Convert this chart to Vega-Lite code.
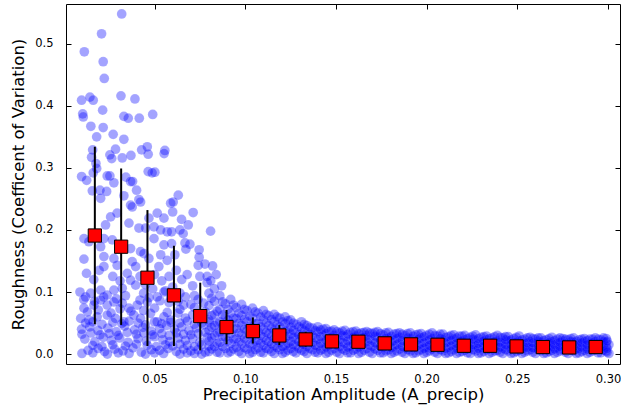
{
"$schema":"https://vega.github.io/schema/vega-lite/v6.json",
"width":554,"height":360,
"autosize":{"type":"none"},
"padding":{"left":66,"top":4,"right":1,"bottom":46},
"config":{"font":"DejaVu Sans","view":{"stroke":"#000","strokeWidth":1},
"axis":{"grid":false,"domain":false,"tickColor":"#000","tickWidth":1,"tickSize":-5,"labelColor":"#000","labelFontSize":11.5,"labelFont":"DejaVu Sans","titleFont":"DejaVu Sans","titleFontWeight":"normal","titleFontSize":16.5,"titleColor":"#000"}},
"datasets":{
"pts":[
{"x":0.0319,"y":0.548},{"x":0.0208,"y":0.516},{"x":0.0113,"y":0.487},{"x":0.0217,"y":0.471},{"x":0.0223,"y":0.444},{"x":0.0098,"y":0.409},{"x":0.0144,"y":0.414},{"x":0.0162,"y":0.409},{"x":0.0315,"y":0.416},{"x":0.0392,"y":0.411},{"x":0.0214,"y":0.393},{"x":0.0104,"y":0.387},{"x":0.0107,"y":0.382},{"x":0.0331,"y":0.383},{"x":0.0355,"y":0.380},{"x":0.0416,"y":0.380},{"x":0.049,"y":0.386},{"x":0.0149,"y":0.367},{"x":0.0217,"y":0.365},{"x":0.0181,"y":0.350},{"x":0.0272,"y":0.354},{"x":0.0331,"y":0.346},{"x":0.0159,"y":0.329},{"x":0.0153,"y":0.317},{"x":0.0285,"y":0.330},{"x":0.0254,"y":0.321},{"x":0.0264,"y":0.315},{"x":0.0322,"y":0.316},{"x":0.037,"y":0.320},{"x":0.0429,"y":0.329},{"x":0.046,"y":0.334},{"x":0.0465,"y":0.322},{"x":0.0557,"y":0.328},{"x":0.0553,"y":0.323},{"x":0.0177,"y":0.307},{"x":0.0181,"y":0.299},{"x":0.0098,"y":0.286},{"x":0.0126,"y":0.280},{"x":0.0162,"y":0.292},{"x":0.0254,"y":0.287},{"x":0.0276,"y":0.276},{"x":0.0342,"y":0.285},{"x":0.0368,"y":0.278},{"x":0.0379,"y":0.278},{"x":0.0401,"y":0.264},{"x":0.0465,"y":0.294},{"x":0.0502,"y":0.293},{"x":0.0157,"y":0.263},{"x":0.0199,"y":0.264},{"x":0.0236,"y":0.262},{"x":0.0631,"y":0.256},{"x":0.0239,"y":0.287},{"x":0.0487,"y":0.292},{"x":0.0203,"y":0.251},{"x":0.0331,"y":0.255},{"x":0.0368,"y":0.240},{"x":0.0414,"y":0.249},{"x":0.0294,"y":0.227},{"x":0.0258,"y":0.221},{"x":0.0230,"y":0.208},{"x":0.0515,"y":0.227},{"x":0.0552,"y":0.219},{"x":0.0589,"y":0.243},{"x":0.0469,"y":0.219},{"x":0.0497,"y":0.205},{"x":0.0359,"y":0.211},{"x":0.0414,"y":0.203},{"x":0.0451,"y":0.203},{"x":0.0377,"y":0.237},{"x":0.0423,"y":0.245},{"x":0.0111,"y":0.186},{"x":0.0138,"y":0.181},{"x":0.0221,"y":0.186},{"x":0.0267,"y":0.184},{"x":0.0497,"y":0.186},{"x":0.0552,"y":0.176},{"x":0.057,"y":0.197},{"x":0.0534,"y":0.200},{"x":0.0423,"y":0.165},{"x":0.0442,"y":0.162},{"x":0.0469,"y":0.154},{"x":0.0111,"y":0.153},{"x":0.0203,"y":0.173},{"x":0.0221,"y":0.157},{"x":0.0276,"y":0.154},{"x":0.0294,"y":0.143},{"x":0.0221,"y":0.141},{"x":0.0368,"y":0.170},{"x":0.0377,"y":0.149},{"x":0.0396,"y":0.141},{"x":0.0534,"y":0.160},{"x":0.0524,"y":0.141},{"x":0.057,"y":0.151},
{"x":0.0603,"y":0.245},{"x":0.060,"y":0.229},{"x":0.0713,"y":0.228},{"x":0.0649,"y":0.217},{"x":0.0686,"y":0.208},{"x":0.064,"y":0.200},{"x":0.0658,"y":0.194},{"x":0.0594,"y":0.197},{"x":0.0809,"y":0.198},{"x":0.0668,"y":0.179},{"x":0.0695,"y":0.177},{"x":0.0673,"y":0.169},{"x":0.0746,"y":0.168},{"x":0.0746,"y":0.156},{"x":0.0594,"y":0.178},{"x":0.0612,"y":0.160},{"x":0.0741,"y":0.143},{"x":0.0778,"y":0.145},{"x":0.082,"y":0.142},
{"x":0.0125,"y":0.130},{"x":0.0165,"y":0.120},{"x":0.0195,"y":0.135},{"x":0.027,"y":0.125},{"x":0.031,"y":0.118},{"x":0.035,"y":0.130},{"x":0.042,"y":0.125},{"x":0.045,"y":0.112},{"x":0.050,"y":0.128},{"x":0.054,"y":0.118},{"x":0.058,"y":0.125},{"x":0.062,"y":0.135},{"x":0.065,"y":0.12},{"x":0.068,"y":0.128},{"x":0.071,"y":0.11},{"x":0.075,"y":0.125},{"x":0.079,"y":0.115},{"x":0.083,"y":0.105},{"x":0.060,"y":0.108},{"x":0.064,"y":0.098},
{"x":0.0089,"y":0.100},{"x":0.012,"y":0.092},{"x":0.0148,"y":0.098},{"x":0.0203,"y":0.103},{"x":0.0239,"y":0.095},{"x":0.0276,"y":0.103},{"x":0.0322,"y":0.106},{"x":0.0368,"y":0.119},{"x":0.0396,"y":0.111},{"x":0.044,"y":0.098},{"x":0.049,"y":0.105},{"x":0.056,"y":0.102},{"x":0.061,"y":0.095},
{"x":0.011,"y":0.088},{"x":0.017,"y":0.085},{"x":0.022,"y":0.092},{"x":0.029,"y":0.089},{"x":0.034,"y":0.094},{"x":0.042,"y":0.087},{"x":0.047,"y":0.091},{"x":0.053,"y":0.086},{"x":0.058,"y":0.083},{"x":0.066,"y":0.079},{"x":0.072,"y":0.094},{"x":0.077,"y":0.082},
{"x":0.0111,"y":0.074},{"x":0.0166,"y":0.079},{"x":0.0203,"y":0.087},{"x":0.0239,"y":0.079},{"x":0.0276,"y":0.084},{"x":0.0322,"y":0.082},{"x":0.0359,"y":0.074},{"x":0.0405,"y":0.079},{"x":0.046,"y":0.084},{"x":0.0515,"y":0.092},{"x":0.0552,"y":0.100},{"x":0.0589,"y":0.090},{"x":0.063,"y":0.085},{"x":0.067,"y":0.092},{"x":0.070,"y":0.080},{"x":0.074,"y":0.088},
{"x":0.0093,"y":0.0575},{"x":0.0138,"y":0.0548},{"x":0.0184,"y":0.060},{"x":0.0239,"y":0.0628},{"x":0.0285,"y":0.0575},{"x":0.0331,"y":0.052},{"x":0.0386,"y":0.0628},{"x":0.0423,"y":0.0575},{"x":0.0478,"y":0.0656},{"x":0.0515,"y":0.052},{"x":0.0552,"y":0.060},{"x":0.0589,"y":0.0548},{"x":0.063,"y":0.066},{"x":0.067,"y":0.058},{"x":0.071,"y":0.063},{"x":0.075,"y":0.056},{"x":0.078,"y":0.068},
{"x":0.0098,"y":0.040},{"x":0.0143,"y":0.044},{"x":0.0188,"y":0.038},{"x":0.0243,"y":0.042},{"x":0.0289,"y":0.036},{"x":0.0335,"y":0.045},{"x":0.0390,"y":0.039},{"x":0.0436,"y":0.043},{"x":0.0482,"y":0.037},{"x":0.0528,"y":0.041},{"x":0.0565,"y":0.046},{"x":0.061,"y":0.040},{"x":0.065,"y":0.044},{"x":0.069,"y":0.038},{"x":0.073,"y":0.042},{"x":0.077,"y":0.047},
{"x":0.0116,"y":0.024},{"x":0.0171,"y":0.020},{"x":0.0217,"y":0.027},{"x":0.0262,"y":0.022},{"x":0.0308,"y":0.026},{"x":0.0354,"y":0.019},{"x":0.0409,"y":0.025},{"x":0.0455,"y":0.021},{"x":0.0500,"y":0.028},{"x":0.0546,"y":0.023},{"x":0.0583,"y":0.020},{"x":0.063,"y":0.026},{"x":0.067,"y":0.022},{"x":0.071,"y":0.025},{"x":0.075,"y":0.019},{"x":0.079,"y":0.027},
{"x":0.0134,"y":0.006},{"x":0.0189,"y":0.009},{"x":0.0225,"y":0.004},{"x":0.0280,"y":0.008},{"x":0.0326,"y":0.005},{"x":0.0381,"y":0.010},{"x":0.0427,"y":0.003},{"x":0.0482,"y":0.007},{"x":0.0528,"y":0.006},{"x":0.0574,"y":0.009},{"x":0.062,"y":0.004},{"x":0.066,"y":0.008},{"x":0.070,"y":0.005},{"x":0.074,"y":0.007},{"x":0.078,"y":0.003},
{"x":0.010,"y":0.001},{"x":0.016,"y":0.002},{"x":0.024,"y":0.000},{"x":0.030,"y":0.002},{"x":0.036,"y":0.001},{"x":0.045,"y":0.000},{"x":0.050,"y":0.002},{"x":0.055,"y":0.001},{"x":0.064,"y":0.000},{"x":0.068,"y":0.002},{"x":0.072,"y":0.001},{"x":0.076,"y":0.000},
{"x":0.013,"y":0.068},{"x":0.019,"y":0.071},{"x":0.026,"y":0.066},{"x":0.031,"y":0.073},{"x":0.037,"y":0.069},{"x":0.044,"y":0.070},{"x":0.050,"y":0.074},{"x":0.057,"y":0.067},{"x":0.064,"y":0.072},{"x":0.072,"y":0.075},
{"x":0.012,"y":0.050},{"x":0.016,"y":0.052},{"x":0.021,"y":0.048},{"x":0.027,"y":0.051},{"x":0.032,"y":0.049},{"x":0.036,"y":0.053},{"x":0.041,"y":0.050},{"x":0.045,"y":0.047},{"x":0.050,"y":0.052},{"x":0.054,"y":0.049},{"x":0.059,"y":0.051},{"x":0.064,"y":0.050},{"x":0.068,"y":0.053},{"x":0.072,"y":0.048},{"x":0.076,"y":0.050},{"x":0.080,"y":0.052},
{"x":0.010,"y":0.032},{"x":0.015,"y":0.034},{"x":0.020,"y":0.031},{"x":0.025,"y":0.033},{"x":0.030,"y":0.030},{"x":0.035,"y":0.035},{"x":0.040,"y":0.032},{"x":0.044,"y":0.034},{"x":0.049,"y":0.031},{"x":0.054,"y":0.033},{"x":0.058,"y":0.030},{"x":0.062,"y":0.034},{"x":0.066,"y":0.032},{"x":0.070,"y":0.031},{"x":0.074,"y":0.033},{"x":0.078,"y":0.035},
{"x":0.016,"y":0.014},{"x":0.021,"y":0.012},{"x":0.027,"y":0.015},{"x":0.034,"y":0.013},{"x":0.040,"y":0.016},{"x":0.046,"y":0.014},{"x":0.051,"y":0.012},{"x":0.056,"y":0.015},{"x":0.060,"y":0.013},{"x":0.064,"y":0.016},{"x":0.068,"y":0.014},{"x":0.072,"y":0.012},{"x":0.076,"y":0.015},{"x":0.080,"y":0.013},
{"x":0.081,"y":0.118},{"x":0.084,"y":0.128},{"x":0.087,"y":0.110},{"x":0.079,"y":0.125},
{"x":0.080,"y":0.004},{"x":0.080,"y":0.021},{"x":0.080,"y":0.038},{"x":0.080,"y":0.055},{"x":0.080,"y":0.078},{"x":0.080,"y":0.098},
{"x":0.083,"y":0.012},{"x":0.083,"y":0.030},{"x":0.083,"y":0.046},{"x":0.083,"y":0.064},{"x":0.083,"y":0.085},
{"x":0.086,"y":0.002},{"x":0.086,"y":0.019},{"x":0.086,"y":0.036},{"x":0.086,"y":0.052},{"x":0.086,"y":0.072},{"x":0.086,"y":0.094},
{"x":0.089,"y":0.009},{"x":0.089,"y":0.027},{"x":0.089,"y":0.044},{"x":0.089,"y":0.060},{"x":0.089,"y":0.081},
{"x":0.092,"y":0.004},{"x":0.092,"y":0.017},{"x":0.092,"y":0.033},{"x":0.092,"y":0.049},{"x":0.092,"y":0.066},{"x":0.092,"y":0.088},
{"x":0.095,"y":0.011},{"x":0.095,"y":0.025},{"x":0.095,"y":0.041},{"x":0.095,"y":0.057},{"x":0.095,"y":0.075},
{"x":0.098,"y":0.001},{"x":0.098,"y":0.016},{"x":0.098,"y":0.031},{"x":0.098,"y":0.046},{"x":0.098,"y":0.062},{"x":0.098,"y":0.080},
{"x":0.101,"y":0.008},{"x":0.101,"y":0.023},{"x":0.101,"y":0.038},{"x":0.101,"y":0.052},{"x":0.101,"y":0.070},
{"x":0.104,"y":0.003},{"x":0.104,"y":0.015},{"x":0.104,"y":0.029},{"x":0.104,"y":0.043},{"x":0.104,"y":0.058},{"x":0.104,"y":0.074},
{"x":0.107,"y":0.010},{"x":0.107,"y":0.022},{"x":0.107,"y":0.036},{"x":0.107,"y":0.050},{"x":0.107,"y":0.066},
{"x":0.110,"y":0.002},{"x":0.110,"y":0.014},{"x":0.110,"y":0.027},{"x":0.110,"y":0.040},{"x":0.110,"y":0.055},{"x":0.110,"y":0.070},
{"x":0.113,"y":0.008},{"x":0.113,"y":0.020},{"x":0.113,"y":0.033},{"x":0.113,"y":0.046},{"x":0.113,"y":0.062},
{"x":0.116,"y":0.001},{"x":0.116,"y":0.013},{"x":0.116,"y":0.025},{"x":0.116,"y":0.038},{"x":0.116,"y":0.052},{"x":0.116,"y":0.064},
{"x":0.119,"y":0.007},{"x":0.119,"y":0.019},{"x":0.119,"y":0.031},{"x":0.119,"y":0.044},{"x":0.119,"y":0.058},
{"x":0.122,"y":0.003},{"x":0.122,"y":0.014},{"x":0.122,"y":0.026},{"x":0.122,"y":0.037},{"x":0.122,"y":0.049},{"x":0.122,"y":0.060},
{"x":0.125,"y":0.009},{"x":0.125,"y":0.020},{"x":0.125,"y":0.032},{"x":0.125,"y":0.043},{"x":0.125,"y":0.055},
{"x":0.128,"y":0.002},{"x":0.128,"y":0.013},{"x":0.128,"y":0.024},{"x":0.128,"y":0.035},{"x":0.128,"y":0.048},
{"x":0.0815,"y":0.008},{"x":0.0815,"y":0.026},{"x":0.0815,"y":0.043},{"x":0.0815,"y":0.062},{"x":0.0815,"y":0.090},
{"x":0.0845,"y":0.003},{"x":0.0845,"y":0.017},{"x":0.0845,"y":0.034},{"x":0.0845,"y":0.050},{"x":0.0845,"y":0.069},
{"x":0.0875,"y":0.012},{"x":0.0875,"y":0.028},{"x":0.0875,"y":0.045},{"x":0.0875,"y":0.063},{"x":0.0875,"y":0.084},
{"x":0.0905,"y":0.002},{"x":0.0905,"y":0.021},{"x":0.0905,"y":0.038},{"x":0.0905,"y":0.055},{"x":0.0905,"y":0.072},
{"x":0.0935,"y":0.008},{"x":0.0935,"y":0.024},{"x":0.0935,"y":0.040},{"x":0.0935,"y":0.058},{"x":0.0935,"y":0.079},
{"x":0.0965,"y":0.004},{"x":0.0965,"y":0.019},{"x":0.0965,"y":0.034},{"x":0.0965,"y":0.050},{"x":0.0965,"y":0.066},
{"x":0.0995,"y":0.010},{"x":0.0995,"y":0.025},{"x":0.0995,"y":0.040},{"x":0.0995,"y":0.056},{"x":0.0995,"y":0.072},
{"x":0.1025,"y":0.001},{"x":0.1025,"y":0.016},{"x":0.1025,"y":0.031},{"x":0.1025,"y":0.045},{"x":0.1025,"y":0.061},
{"x":0.1055,"y":0.007},{"x":0.1055,"y":0.021},{"x":0.1055,"y":0.035},{"x":0.1055,"y":0.049},{"x":0.1055,"y":0.068},
{"x":0.1085,"y":0.003},{"x":0.1085,"y":0.017},{"x":0.1085,"y":0.030},{"x":0.1085,"y":0.044},{"x":0.1085,"y":0.060},
{"x":0.1115,"y":0.009},{"x":0.1115,"y":0.022},{"x":0.1115,"y":0.035},{"x":0.1115,"y":0.050},{"x":0.1115,"y":0.064},
{"x":0.1145,"y":0.004},{"x":0.1145,"y":0.016},{"x":0.1145,"y":0.029},{"x":0.1145,"y":0.042},{"x":0.1145,"y":0.056},
{"x":0.1175,"y":0.010},{"x":0.1175,"y":0.022},{"x":0.1175,"y":0.034},{"x":0.1175,"y":0.047},{"x":0.1175,"y":0.060},
{"x":0.1205,"y":0.001},{"x":0.1205,"y":0.012},{"x":0.1205,"y":0.024},{"x":0.1205,"y":0.036},{"x":0.1205,"y":0.052},
{"x":0.1235,"y":0.006},{"x":0.1235,"y":0.017},{"x":0.1235,"y":0.029},{"x":0.1235,"y":0.040},{"x":0.1235,"y":0.054},
{"x":0.1265,"y":0.004},{"x":0.1265,"y":0.015},{"x":0.1265,"y":0.027},{"x":0.1265,"y":0.038},{"x":0.1265,"y":0.050},
{"x":0.1295,"y":0.009},{"x":0.1295,"y":0.020},{"x":0.1295,"y":0.031},{"x":0.1295,"y":0.044},
{"x":0.131,"y":0.006},{"x":0.131,"y":0.017},{"x":0.131,"y":0.029},{"x":0.131,"y":0.041},{"x":0.131,"y":0.052},
{"x":0.134,"y":0.001},{"x":0.134,"y":0.012},{"x":0.134,"y":0.023},{"x":0.134,"y":0.035},{"x":0.134,"y":0.046},
{"x":0.137,"y":0.007},{"x":0.137,"y":0.018},{"x":0.137,"y":0.030},{"x":0.137,"y":0.042},
{"x":0.140,"y":0.002},{"x":0.140,"y":0.013},{"x":0.140,"y":0.024},{"x":0.140,"y":0.036},{"x":0.140,"y":0.044},
{"x":0.143,"y":0.008},{"x":0.143,"y":0.019},{"x":0.143,"y":0.030},{"x":0.143,"y":0.040},
{"x":0.146,"y":0.003},{"x":0.146,"y":0.014},{"x":0.146,"y":0.025},{"x":0.146,"y":0.036},
{"x":0.149,"y":0.009},{"x":0.149,"y":0.020},{"x":0.149,"y":0.030},{"x":0.149,"y":0.039},
{"x":0.152,"y":0.001},{"x":0.152,"y":0.012},{"x":0.152,"y":0.023},{"x":0.152,"y":0.034},
{"x":0.155,"y":0.006},{"x":0.155,"y":0.017},{"x":0.155,"y":0.028},{"x":0.155,"y":0.038},
{"x":0.158,"y":0.002},{"x":0.158,"y":0.013},{"x":0.158,"y":0.024},{"x":0.158,"y":0.035},
{"x":0.161,"y":0.008},{"x":0.161,"y":0.019},{"x":0.161,"y":0.029},{"x":0.161,"y":0.037},
{"x":0.164,"y":0.003},{"x":0.164,"y":0.014},{"x":0.164,"y":0.025},{"x":0.164,"y":0.034},
{"x":0.167,"y":0.009},{"x":0.167,"y":0.020},{"x":0.167,"y":0.030},{"x":0.167,"y":0.036},
{"x":0.170,"y":0.001},{"x":0.170,"y":0.012},{"x":0.170,"y":0.022},{"x":0.170,"y":0.033},
{"x":0.173,"y":0.006},{"x":0.173,"y":0.016},{"x":0.173,"y":0.027},{"x":0.173,"y":0.036},
{"x":0.176,"y":0.002},{"x":0.176,"y":0.011},{"x":0.176,"y":0.021},{"x":0.176,"y":0.031},
{"x":0.179,"y":0.007},{"x":0.179,"y":0.017},{"x":0.179,"y":0.026},{"x":0.179,"y":0.035},
{"x":0.182,"y":0.003},{"x":0.182,"y":0.013},{"x":0.182,"y":0.022},{"x":0.182,"y":0.032},
{"x":0.185,"y":0.008},{"x":0.185,"y":0.018},{"x":0.185,"y":0.027},{"x":0.185,"y":0.034},
{"x":0.188,"y":0.001},{"x":0.188,"y":0.010},{"x":0.188,"y":0.020},{"x":0.188,"y":0.030},
{"x":0.191,"y":0.005},{"x":0.191,"y":0.015},{"x":0.191,"y":0.025},{"x":0.191,"y":0.034},
{"x":0.194,"y":0.002},{"x":0.194,"y":0.012},{"x":0.194,"y":0.021},{"x":0.194,"y":0.031},
{"x":0.197,"y":0.007},{"x":0.197,"y":0.017},{"x":0.197,"y":0.026},{"x":0.197,"y":0.033},
{"x":0.200,"y":0.003},{"x":0.200,"y":0.011},{"x":0.200,"y":0.020},{"x":0.200,"y":0.030},
{"x":0.203,"y":0.008},{"x":0.203,"y":0.016},{"x":0.203,"y":0.025},{"x":0.203,"y":0.034},
{"x":0.206,"y":0.001},{"x":0.206,"y":0.010},{"x":0.206,"y":0.019},{"x":0.206,"y":0.029},
{"x":0.209,"y":0.005},{"x":0.209,"y":0.014},{"x":0.209,"y":0.023},{"x":0.209,"y":0.032},
{"x":0.212,"y":0.002},{"x":0.212,"y":0.011},{"x":0.212,"y":0.020},{"x":0.212,"y":0.028},
{"x":0.215,"y":0.007},{"x":0.215,"y":0.015},{"x":0.215,"y":0.024},{"x":0.215,"y":0.031},
{"x":0.218,"y":0.003},{"x":0.218,"y":0.012},{"x":0.218,"y":0.020},{"x":0.218,"y":0.029},
{"x":0.221,"y":0.006},{"x":0.221,"y":0.015},{"x":0.221,"y":0.023},{"x":0.221,"y":0.030},
{"x":0.224,"y":0.001},{"x":0.224,"y":0.010},{"x":0.224,"y":0.018},{"x":0.224,"y":0.027},
{"x":0.227,"y":0.005},{"x":0.227,"y":0.013},{"x":0.227,"y":0.022},{"x":0.227,"y":0.031},
{"x":0.230,"y":0.002},{"x":0.230,"y":0.011},{"x":0.230,"y":0.019},{"x":0.230,"y":0.027},
{"x":0.233,"y":0.007},{"x":0.233,"y":0.015},{"x":0.233,"y":0.023},{"x":0.233,"y":0.029},
{"x":0.236,"y":0.003},{"x":0.236,"y":0.010},{"x":0.236,"y":0.018},{"x":0.236,"y":0.026},
{"x":0.239,"y":0.006},{"x":0.239,"y":0.014},{"x":0.239,"y":0.021},{"x":0.239,"y":0.030},
{"x":0.242,"y":0.001},{"x":0.242,"y":0.009},{"x":0.242,"y":0.017},{"x":0.242,"y":0.026},
{"x":0.245,"y":0.005},{"x":0.245,"y":0.013},{"x":0.245,"y":0.021},{"x":0.245,"y":0.028},
{"x":0.248,"y":0.002},{"x":0.248,"y":0.010},{"x":0.248,"y":0.018},{"x":0.248,"y":0.025},
{"x":0.251,"y":0.006},{"x":0.251,"y":0.014},{"x":0.251,"y":0.021},{"x":0.251,"y":0.029},
{"x":0.254,"y":0.003},{"x":0.254,"y":0.010},{"x":0.254,"y":0.017},{"x":0.254,"y":0.024},
{"x":0.257,"y":0.007},{"x":0.257,"y":0.013},{"x":0.257,"y":0.020},{"x":0.257,"y":0.027},
{"x":0.260,"y":0.001},{"x":0.260,"y":0.009},{"x":0.260,"y":0.016},{"x":0.260,"y":0.024},
{"x":0.263,"y":0.005},{"x":0.263,"y":0.012},{"x":0.263,"y":0.019},{"x":0.263,"y":0.026},
{"x":0.266,"y":0.002},{"x":0.266,"y":0.009},{"x":0.266,"y":0.016},{"x":0.266,"y":0.023},
{"x":0.269,"y":0.006},{"x":0.269,"y":0.013},{"x":0.269,"y":0.020},{"x":0.269,"y":0.027},
{"x":0.272,"y":0.003},{"x":0.272,"y":0.010},{"x":0.272,"y":0.017},{"x":0.272,"y":0.024},
{"x":0.275,"y":0.007},{"x":0.275,"y":0.014},{"x":0.275,"y":0.021},{"x":0.275,"y":0.025},
{"x":0.278,"y":0.001},{"x":0.278,"y":0.008},{"x":0.278,"y":0.015},{"x":0.278,"y":0.023},
{"x":0.281,"y":0.005},{"x":0.281,"y":0.012},{"x":0.281,"y":0.019},{"x":0.281,"y":0.026},
{"x":0.284,"y":0.002},{"x":0.284,"y":0.009},{"x":0.284,"y":0.016},{"x":0.284,"y":0.023},
{"x":0.287,"y":0.006},{"x":0.287,"y":0.013},{"x":0.287,"y":0.020},{"x":0.287,"y":0.025},
{"x":0.290,"y":0.003},{"x":0.290,"y":0.010},{"x":0.290,"y":0.017},{"x":0.290,"y":0.024},
{"x":0.293,"y":0.007},{"x":0.293,"y":0.014},{"x":0.293,"y":0.020},{"x":0.293,"y":0.026},
{"x":0.296,"y":0.002},{"x":0.296,"y":0.009},{"x":0.296,"y":0.016},{"x":0.296,"y":0.023},
{"x":0.299,"y":0.005},{"x":0.299,"y":0.012},{"x":0.299,"y":0.019},{"x":0.299,"y":0.025},
{"x":0.3005,"y":0.001},{"x":0.3005,"y":0.015},
{"x":0.1325,"y":0.004},{"x":0.1325,"y":0.015},{"x":0.1325,"y":0.027},{"x":0.1325,"y":0.038},{"x":0.1325,"y":0.048},
{"x":0.1355,"y":0.009},{"x":0.1355,"y":0.020},{"x":0.1355,"y":0.032},{"x":0.1355,"y":0.043},
{"x":0.1385,"y":0.003},{"x":0.1385,"y":0.014},{"x":0.1385,"y":0.026},{"x":0.1385,"y":0.038},
{"x":0.1415,"y":0.006},{"x":0.1415,"y":0.017},{"x":0.1415,"y":0.028},{"x":0.1415,"y":0.039},
{"x":0.1445,"y":0.001},{"x":0.1445,"y":0.011},{"x":0.1445,"y":0.022},{"x":0.1445,"y":0.033},{"x":0.1445,"y":0.041},
{"x":0.1475,"y":0.006},{"x":0.1475,"y":0.016},{"x":0.1475,"y":0.027},{"x":0.1475,"y":0.037},
{"x":0.1505,"y":0.003},{"x":0.1505,"y":0.014},{"x":0.1505,"y":0.025},{"x":0.1505,"y":0.036},
{"x":0.1535,"y":0.008},{"x":0.1535,"y":0.019},{"x":0.1535,"y":0.030},{"x":0.1535,"y":0.037},
{"x":0.1565,"y":0.002},{"x":0.1565,"y":0.011},{"x":0.1565,"y":0.021},{"x":0.1565,"y":0.032},
{"x":0.1595,"y":0.006},{"x":0.1595,"y":0.016},{"x":0.1595,"y":0.027},{"x":0.1595,"y":0.036},
{"x":0.1625,"y":0.001},{"x":0.1625,"y":0.011},{"x":0.1625,"y":0.022},{"x":0.1625,"y":0.033},
{"x":0.1655,"y":0.006},{"x":0.1655,"y":0.017},{"x":0.1655,"y":0.027},{"x":0.1655,"y":0.035},
{"x":0.1685,"y":0.003},{"x":0.1685,"y":0.014},{"x":0.1685,"y":0.024},{"x":0.1685,"y":0.034},
{"x":0.1715,"y":0.008},{"x":0.1715,"y":0.018},{"x":0.1715,"y":0.029},{"x":0.1715,"y":0.035},
{"x":0.1745,"y":0.002},{"x":0.1745,"y":0.012},{"x":0.1745,"y":0.022},{"x":0.1745,"y":0.033},
{"x":0.1775,"y":0.005},{"x":0.1775,"y":0.015},{"x":0.1775,"y":0.025},{"x":0.1775,"y":0.034},
{"x":0.1805,"y":0.001},{"x":0.1805,"y":0.010},{"x":0.1805,"y":0.019},{"x":0.1805,"y":0.029},
{"x":0.1835,"y":0.005},{"x":0.1835,"y":0.015},{"x":0.1835,"y":0.025},{"x":0.1835,"y":0.033},
{"x":0.1865,"y":0.003},{"x":0.1865,"y":0.012},{"x":0.1865,"y":0.022},{"x":0.1865,"y":0.032},
{"x":0.1895,"y":0.007},{"x":0.1895,"y":0.017},{"x":0.1895,"y":0.026},{"x":0.1895,"y":0.033},
{"x":0.1925,"y":0.001},{"x":0.1925,"y":0.010},{"x":0.1925,"y":0.019},{"x":0.1925,"y":0.029},
{"x":0.1955,"y":0.005},{"x":0.1955,"y":0.014},{"x":0.1955,"y":0.024},{"x":0.1955,"y":0.032},
{"x":0.1985,"y":0.001},{"x":0.1985,"y":0.009},{"x":0.1985,"y":0.018},{"x":0.1985,"y":0.028},
{"x":0.2015,"y":0.005},{"x":0.2015,"y":0.014},{"x":0.2015,"y":0.023},{"x":0.2015,"y":0.032},
{"x":0.2045,"y":0.003},{"x":0.2045,"y":0.012},{"x":0.2045,"y":0.021},{"x":0.2045,"y":0.030},
{"x":0.2075,"y":0.007},{"x":0.2075,"y":0.016},{"x":0.2075,"y":0.025},{"x":0.2075,"y":0.032},
{"x":0.2105,"y":0.001},{"x":0.2105,"y":0.009},{"x":0.2105,"y":0.018},{"x":0.2105,"y":0.027},
{"x":0.2135,"y":0.004},{"x":0.2135,"y":0.013},{"x":0.2135,"y":0.022},{"x":0.2135,"y":0.030},
{"x":0.2165,"y":0.001},{"x":0.2165,"y":0.009},{"x":0.2165,"y":0.017},{"x":0.2165,"y":0.026},
{"x":0.2195,"y":0.004},{"x":0.2195,"y":0.012},{"x":0.2195,"y":0.021},{"x":0.2195,"y":0.029},
{"x":0.2225,"y":0.002},{"x":0.2225,"y":0.008},{"x":0.2225,"y":0.016},{"x":0.2225,"y":0.025},
{"x":0.2255,"y":0.007},{"x":0.2255,"y":0.015},{"x":0.2255,"y":0.024},{"x":0.2255,"y":0.029},
{"x":0.2285,"y":0.001},{"x":0.2285,"y":0.009},{"x":0.2285,"y":0.017},{"x":0.2285,"y":0.025},
{"x":0.2315,"y":0.004},{"x":0.2315,"y":0.013},{"x":0.2315,"y":0.021},{"x":0.2315,"y":0.028},
{"x":0.2345,"y":0.001},{"x":0.2345,"y":0.008},{"x":0.2345,"y":0.016},{"x":0.2345,"y":0.025},
{"x":0.2375,"y":0.005},{"x":0.2375,"y":0.012},{"x":0.2375,"y":0.020},{"x":0.2375,"y":0.028},
{"x":0.2405,"y":0.003},{"x":0.2405,"y":0.011},{"x":0.2405,"y":0.019},{"x":0.2405,"y":0.027},
{"x":0.2435,"y":0.007},{"x":0.2435,"y":0.015},{"x":0.2435,"y":0.023},{"x":0.2435,"y":0.028},
{"x":0.2465,"y":0.001},{"x":0.2465,"y":0.008},{"x":0.2465,"y":0.015},{"x":0.2465,"y":0.023},
{"x":0.2495,"y":0.004},{"x":0.2495,"y":0.012},{"x":0.2495,"y":0.019},{"x":0.2495,"y":0.027},
{"x":0.2525,"y":0.001},{"x":0.2525,"y":0.008},{"x":0.2525,"y":0.016},{"x":0.2525,"y":0.023},
{"x":0.2555,"y":0.005},{"x":0.2555,"y":0.011},{"x":0.2555,"y":0.018},{"x":0.2555,"y":0.026},
{"x":0.2585,"y":0.003},{"x":0.2585,"y":0.010},{"x":0.2585,"y":0.018},{"x":0.2585,"y":0.025},
{"x":0.2615,"y":0.007},{"x":0.2615,"y":0.014},{"x":0.2615,"y":0.021},{"x":0.2615,"y":0.026},
{"x":0.2645,"y":0.001},{"x":0.2645,"y":0.008},{"x":0.2645,"y":0.015},{"x":0.2645,"y":0.022},
{"x":0.2675,"y":0.004},{"x":0.2675,"y":0.011},{"x":0.2675,"y":0.018},{"x":0.2675,"y":0.025},
{"x":0.2705,"y":0.001},{"x":0.2705,"y":0.008},{"x":0.2705,"y":0.015},{"x":0.2705,"y":0.022},
{"x":0.2735,"y":0.005},{"x":0.2735,"y":0.012},{"x":0.2735,"y":0.019},{"x":0.2735,"y":0.026},
{"x":0.2765,"y":0.003},{"x":0.2765,"y":0.010},{"x":0.2765,"y":0.017},{"x":0.2765,"y":0.024},
{"x":0.2795,"y":0.006},{"x":0.2795,"y":0.013},{"x":0.2795,"y":0.020},{"x":0.2795,"y":0.025},
{"x":0.2825,"y":0.001},{"x":0.2825,"y":0.008},{"x":0.2825,"y":0.014},{"x":0.2825,"y":0.021},
{"x":0.2855,"y":0.004},{"x":0.2855,"y":0.011},{"x":0.2855,"y":0.018},{"x":0.2855,"y":0.024},
{"x":0.2885,"y":0.001},{"x":0.2885,"y":0.008},{"x":0.2885,"y":0.015},{"x":0.2885,"y":0.022},
{"x":0.2915,"y":0.005},{"x":0.2915,"y":0.012},{"x":0.2915,"y":0.018},{"x":0.2915,"y":0.024},
{"x":0.2945,"y":0.002},{"x":0.2945,"y":0.010},{"x":0.2945,"y":0.017},{"x":0.2945,"y":0.024},
{"x":0.2975,"y":0.006},{"x":0.2975,"y":0.013},{"x":0.2975,"y":0.020},{"x":0.2975,"y":0.026},
{"x":0.2995,"y":0.003},{"x":0.2995,"y":0.009},{"x":0.2995,"y":0.021}
],
"bins":[
{"x":0.0171,"m":0.191,"lo":0.048,"hi":0.334},
{"x":0.0316,"m":0.173,"lo":0.047,"hi":0.299},
{"x":0.0461,"m":0.123,"lo":0.013,"hi":0.232},
{"x":0.0607,"m":0.0946,"lo":0.013,"hi":0.1745},
{"x":0.0752,"m":0.0612,"lo":0.006,"hi":0.115},
{"x":0.0897,"m":0.0435,"lo":0.016,"hi":0.071},
{"x":0.1042,"m":0.037,"lo":0.017,"hi":0.059},
{"x":0.1188,"m":0.030,"lo":0.0145,"hi":0.0467},
{"x":0.1333,"m":0.0236,"lo":0.012,"hi":0.036},
{"x":0.1478,"m":0.0204,"lo":0.010,"hi":0.030},
{"x":0.1624,"m":0.0199,"lo":0.010,"hi":0.030},
{"x":0.1769,"m":0.0172,"lo":0.008,"hi":0.026},
{"x":0.1914,"m":0.0156,"lo":0.007,"hi":0.024},
{"x":0.2060,"m":0.015,"lo":0.007,"hi":0.023},
{"x":0.2205,"m":0.0134,"lo":0.006,"hi":0.021},
{"x":0.2350,"m":0.0134,"lo":0.006,"hi":0.021},
{"x":0.2496,"m":0.0123,"lo":0.005,"hi":0.019},
{"x":0.2641,"m":0.0113,"lo":0.005,"hi":0.018},
{"x":0.2786,"m":0.0107,"lo":0.004,"hi":0.017},
{"x":0.2932,"m":0.0113,"lo":0.004,"hi":0.018}
]},
"resolve":{"axis":{"x":"independent","y":"independent"}},
"layer":[
{"data":{"name":"pts"},
 "mark":{"type":"circle","size":95,"color":"#0000ff","fillOpacity":0.36,"stroke":"#ffffff","strokeOpacity":0.15,"strokeWidth":0.6},
 "encoding":{
  "x":{"field":"x","type":"quantitative","scale":{"domain":[0.0012,0.3066],"nice":false,"zero":false},
       "axis":{"orient":"bottom","values":[0.05,0.1,0.15,0.2,0.25,0.3],"format":".2f","title":"Precipitation Amplitude (A_precip)","labelPadding":14,"titlePadding":2}},
  "y":{"field":"y","type":"quantitative","scale":{"domain":[-0.016,0.564],"nice":false,"zero":false},
       "axis":{"orient":"left","values":[0,0.1,0.2,0.3,0.4,0.5],"format":".1f","title":"Roughness (Coefficent of Variation)","labelPadding":18,"titlePadding":8}}
 }},
{"data":{"name":"bins"},
 "mark":{"type":"rule","color":"#000","strokeWidth":2},
 "encoding":{
  "x":{"field":"x","type":"quantitative","axis":{"orient":"top","values":[0.05,0.1,0.15,0.2,0.25,0.3],"labels":false,"title":null}},
  "y":{"field":"lo","type":"quantitative","axis":{"orient":"right","values":[0,0.1,0.2,0.3,0.4,0.5],"labels":false,"title":null}},
  "y2":{"field":"hi"}
 }},
{"data":{"name":"bins"},
 "mark":{"type":"square","size":175,"fill":"#ff0000","stroke":"#000","strokeWidth":1,"opacity":1},
 "encoding":{
  "x":{"field":"x","type":"quantitative","axis":null},
  "y":{"field":"m","type":"quantitative","axis":null}
 }}
]
}
